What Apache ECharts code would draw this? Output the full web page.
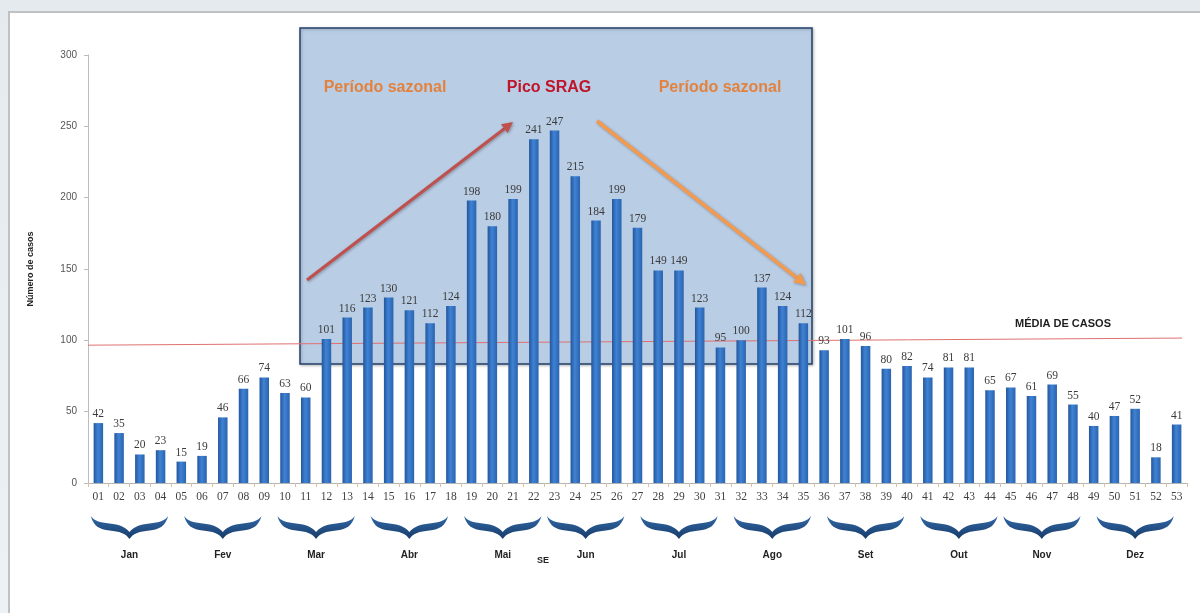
<!DOCTYPE html>
<html>
<head>
<meta charset="utf-8">
<title>SRAG - casos por semana epidemiológica</title>
<script src="https://cdn.jsdelivr.net/npm/echarts@6/dist/echarts.min.js"></script>
<style>
  html, body { margin: 0; padding: 0; width: 1200px; height: 613px; overflow: hidden;
    background: linear-gradient(180deg, #e4eaee 0%, #edf1f3 100%); }
  #frame { position: absolute; left: 8px; top: 11px; right: 0; bottom: 0;
    background: #ffffff; border-left: 2px solid #bfc2c4; border-top: 2px solid #bfc2c4; }
  #chart { position: absolute; left: 0; top: 0; width: 1200px; height: 613px; }
</style>
</head>
<body>
<div id="frame"></div>
<div id="chart"></div>
<script>
// Semanas epidemiológicas (SE)
const weeks = ['01','02','03','04','05','06','07','08','09','10',
  '11','12','13','14','15','16','17','18','19','20',
  '21','22','23','24','25','26','27','28','29','30',
  '31','32','33','34','35','36','37','38','39','40',
  '41','42','43','44','45','46','47','48','49','50',
  '51','52','53'];

// Número de casos por SE
const cases = [42, 35, 20, 23, 15, 19, 46, 66, 74, 63,
  60, 101, 116, 123, 130, 121, 112, 124, 198, 180,
  199, 241, 247, 215, 184, 199, 179, 149, 149, 123,
  95, 100, 137, 124, 112, 93, 101, 96, 80, 82,
  74, 81, 81, 65, 67, 61, 69, 55, 40, 47,
  52, 18, 41];

// Meses e as SE que cada um abrange (primeira, última)
const months = ['Jan','Fev','Mar','Abr','Mai','Jun','Jul','Ago','Set','Out','Nov','Dez'];
const monthStart = ['01','05','10','14','19','23','27','32','36','41','45','49'];
const monthEnd   = ['04','09','13','18','22','26','31','35','40','44','48','53'];

// Linha da média de casos (valor no início e no fim do eixo)
const mediaCasos = [96.6, 101.6];

const yTicks = { min: 0, max: 300, interval: 50 };

const chart = echarts.init(document.getElementById('chart'), null, { renderer: 'canvas' });

const barGradient = new echarts.graphic.LinearGradient(0, 0, 1, 0, [
  { offset: 0, color: '#23569b' },
  { offset: 0.45, color: '#3f82d4' },
  { offset: 1, color: '#2a64ae' }
]);

// Chave horizontal com a ponta para baixo (largura 77.4, altura 23)
const bracePath = 'M -38.7 0 C -36 10 -30 13.5 -20 14.5 C -10 15.5 -4 17 0 23 ' +
  'C 4 17 10 15.5 20 14.5 C 30 13.5 36 10 38.7 0 ' +
  'C 35 5 30 6.5 20 7.5 C 10 8.5 4 11 0 16 ' +
  'C -4 11 -10 8.5 -20 7.5 C -30 6.5 -35 5 -38.7 0 Z';

const braceFill = new echarts.graphic.LinearGradient(0, 0, 0, 1, [
  { offset: 0, color: '#3369a8' },
  { offset: 1, color: '#163b68' }
]);

const monthData = months.map(function (m, i) {
  return [weeks.indexOf(monthStart[i]), weeks.indexOf(monthEnd[i]), m];
});

function renderMonth(params, api) {
  const xa = api.coord([api.value(0), 0])[0];
  const xb = api.coord([api.value(1), 0])[0];
  const cx = (xa + xb) / 2;
  return {
    type: 'group',
    children: [
      {
        type: 'path',
        shape: { pathData: bracePath, x: cx - 38.7, y: 516, width: 77.4, height: 23, layout: 'cover' },
        style: { fill: braceFill }
      },
      {
        type: 'text',
        x: cx, y: 555,
        style: { text: api.value(2), font: 'bold 10px "Liberation Sans", sans-serif', fill: '#222222',
          align: 'center', verticalAlign: 'middle' }
      }
    ]
  };
}

// Seta com ponta triangular
function arrow(x1, y1, x2, y2, color, width, head) {
  const ang = Math.atan2(y2 - y1, x2 - x1);
  const bx = x2 - Math.cos(ang) * head, by = y2 - Math.sin(ang) * head;
  const px = -Math.sin(ang) * head * 0.5, py = Math.cos(ang) * head * 0.5;
  const shadow = { shadowBlur: 3, shadowColor: 'rgba(0,0,0,0.3)', shadowOffsetX: 1, shadowOffsetY: 1 };
  return [
    { type: 'line', z: 20, shape: { x1: x1, y1: y1, x2: bx, y2: by },
      style: Object.assign({ stroke: color, lineWidth: width }, shadow) },
    { type: 'polygon', z: 20, shape: { points: [[x2, y2], [bx + px, by + py], [bx - px, by - py]] },
      style: Object.assign({ fill: color }, shadow) }
  ];
}

const graphics = [];

// Caixa do período sazonal
graphics.push({
  type: 'rect', z: 1,
  shape: { x: 300, y: 28, width: 512, height: 336 },
  style: { fill: '#b9cde5', stroke: '#24406a', lineWidth: 1.5,
    shadowBlur: 3, shadowColor: 'rgba(0,0,0,0.25)', shadowOffsetX: 1, shadowOffsetY: 1 }
});

const titleFont = 'bold 16px "Liberation Sans", sans-serif';
graphics.push(
  { type: 'text', z: 20, x: 385, y: 88,
    style: { text: 'Período sazonal', font: titleFont, fill: '#e2823e', align: 'center', verticalAlign: 'middle' } },
  { type: 'text', z: 20, x: 549, y: 88,
    style: { text: 'Pico SRAG', font: titleFont, fill: '#c0142a', align: 'center', verticalAlign: 'middle' } },
  { type: 'text', z: 20, x: 720, y: 88,
    style: { text: 'Período sazonal', font: titleFont, fill: '#e2823e', align: 'center', verticalAlign: 'middle' } }
);

graphics.push.apply(graphics, arrow(307, 280, 513, 122, '#c0504d', 3, 11));
graphics.push.apply(graphics, arrow(597, 121, 806, 285, '#f39a4e', 3.5, 12));

graphics.push(
  { type: 'text', z: 20, x: 1063, y: 324,
    style: { text: 'MÉDIA DE CASOS', font: 'bold 11px "Liberation Sans", sans-serif', fill: '#1e1e1e',
      align: 'center', verticalAlign: 'middle' } },
  { type: 'text', z: 20, x: 543, y: 561,
    style: { text: 'SE', font: 'bold 9px "Liberation Sans", sans-serif', fill: '#222222',
      align: 'center', verticalAlign: 'middle' } }
);

chart.setOption({
  animation: false,
  backgroundColor: 'transparent',
  grid: { left: 88, right: 13, top: 55, bottom: 130, containLabel: false },
  xAxis: [
    {
      type: 'category',
      data: weeks,
      boundaryGap: true,
      axisLine: { lineStyle: { color: '#b4b4b4', width: 1 } },
      axisTick: { show: true, length: 4, lineStyle: { color: '#dcbf9e' } },
      axisLabel: { interval: 0, margin: 8, fontFamily: 'Liberation Serif', fontSize: 11.5, color: '#3f3f3f' }
    },
    { type: 'value', min: 0, max: 53, show: false }
  ],
  yAxis: {
    type: 'value',
    min: yTicks.min, max: yTicks.max, interval: yTicks.interval,
    axisLine: { show: true, lineStyle: { color: '#bcbcbc' } },
    axisTick: { show: true, length: 4, lineStyle: { color: '#bcbcbc' } },
    splitLine: { show: false },
    axisLabel: { margin: 11, fontFamily: 'Liberation Sans', fontSize: 10, color: '#555555' },
    name: 'Número de casos',
    nameLocation: 'middle',
    nameGap: 53,
    nameTextStyle: { fontFamily: 'Liberation Sans', fontWeight: 'bold', fontSize: 9, color: '#222222' }
  },
  graphic: graphics,
  series: [
    {
      type: 'bar',
      data: cases,
      barWidth: 9.5,
      itemStyle: { color: barGradient },
      label: {
        show: true, position: 'top', distance: 3,
        fontFamily: 'Liberation Serif', fontSize: 11.5, color: '#3a3a3a'
      },
      z: 3
    },
    {
      type: 'line',
      xAxisIndex: 1,
      data: [[0, mediaCasos[0]], [52.76, mediaCasos[1]]],
      symbol: 'none',
      silent: true,
      lineStyle: { color: '#e07070', width: 1 },
      z: 2
    },
    {
      type: 'custom',
      xAxisIndex: 0,
      data: monthData,
      renderItem: renderMonth,
      clip: false,
      silent: true,
      encode: { x: 0 },
      z: 5
    }
  ]
});
</script>
</body>
</html>
